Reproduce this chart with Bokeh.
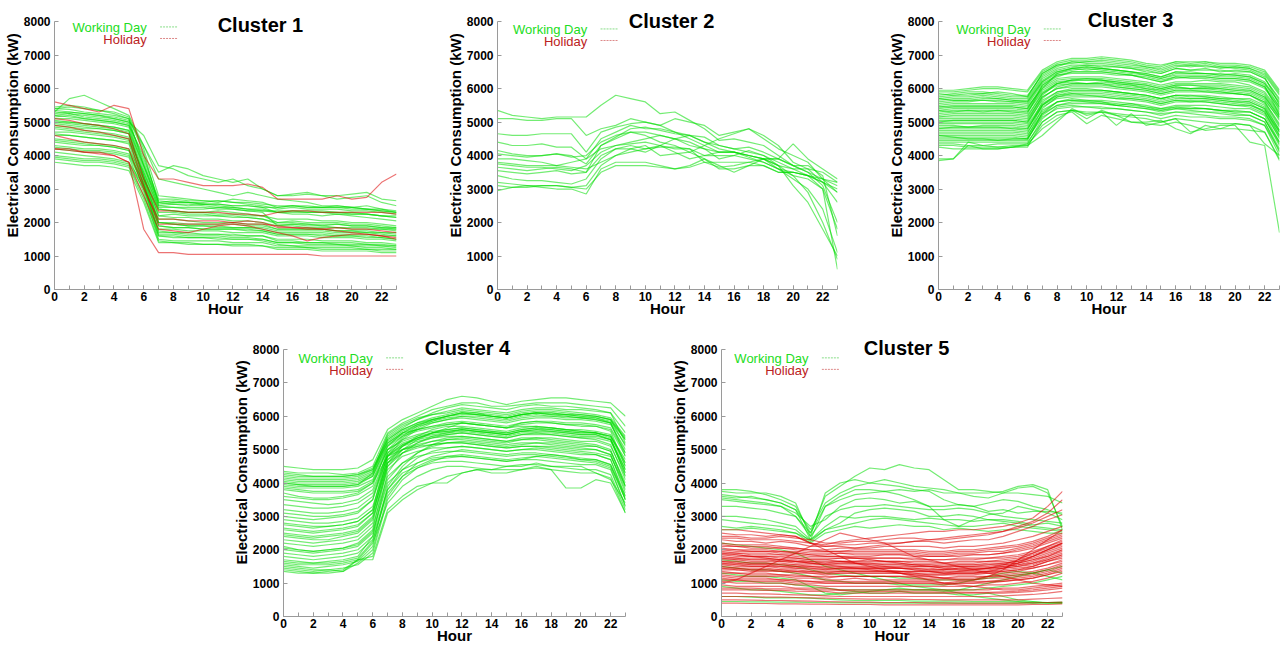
from bokeh.plotting import figure
from bokeh.models import Range1d, FixedTicker, Label, Arrow, ColumnDataSource, Spacer, Title
from bokeh.layouts import row, column
from bokeh.embed import file_html
from bokeh.resources import INLINE

HOURS = list(range(24))
X_TICKS = [0, 2, 4, 6, 8, 10, 12, 14, 16, 18, 20, 22]
Y_TICKS = [0, 1000, 2000, 3000, 4000, 5000, 6000, 7000, 8000]
CLUSTER_NAMES = ["Cluster 1", "Cluster 2", "Cluster 3", "Cluster 4", "Cluster 5"]
LEGEND_LABELS = ["Working Day", "Holiday"]
X_LABEL = "Hour"
Y_LABEL = "Electrical Consumption (kW)"

c1_work = [
 [5450,5500,5450,5350,5250,5100,3700,2500,2550,2500,2550,2500,2450,2400,2350,2300,2250,2250,2200,2250,2200,2150,2100,2050],
 [5300,5700,5800,5600,5400,5200,4300,3500,3700,3600,3400,3300,3200,3300,3000,2800,2850,2900,2800,2700,2750,2800,2600,2500],
 [5200,5250,5150,5100,5050,4950,3900,2700,2700,2650,2650,2600,2700,2650,2600,2450,2500,2450,2450,2500,2450,2400,2350,2300],
 [5100,5100,5050,5000,4950,4850,3600,2400,2350,2300,2300,2350,2300,2250,2200,2000,2000,1950,1950,1950,1900,1900,1850,1800],
 [5000,4950,4900,4850,4800,4700,3400,2200,2150,2150,2100,2100,2050,2050,2000,1900,1900,1850,1850,1850,1800,1800,1800,1750],
 [4900,4850,4800,4800,4750,4650,3300,2000,2000,1950,1950,1950,1950,1900,1900,1800,1800,1800,1800,1750,1750,1750,1700,1700],
 [4800,4750,4700,4650,4600,4500,3200,1900,1850,1850,1800,1800,1800,1800,1750,1650,1650,1650,1600,1600,1600,1550,1550,1500],
 [4600,4600,4550,4500,4450,4350,3100,1700,1700,1650,1650,1650,1600,1600,1600,1450,1450,1400,1400,1400,1400,1350,1350,1300],
 [4400,4350,4300,4300,4250,4150,3000,1600,1550,1550,1550,1500,1500,1500,1450,1350,1300,1300,1300,1300,1300,1250,1250,1200],
 [4200,4150,4100,4100,4050,3950,2900,1500,1450,1450,1450,1450,1400,1400,1400,1300,1300,1250,1250,1250,1250,1200,1200,1200],
 [3900,3850,3800,3800,3750,3650,2700,1450,1400,1400,1350,1350,1350,1350,1300,1250,1250,1250,1200,1200,1200,1200,1150,1150],
 [4000,3950,3900,3900,3850,3750,3000,1800,1800,1750,1750,1750,1700,1700,1700,1600,1600,1600,1550,1550,1550,1500,1500,1450],
 [5350,5300,5250,5200,5150,5050,4300,3300,3200,3100,3000,2900,2800,2900,2800,2700,2650,2600,2500,2500,2450,2500,2400,2300],
 [5150,5200,5100,5050,5000,4900,4000,2600,2650,2600,2600,2650,2600,2550,2500,2400,2450,2400,2400,2400,2350,2350,2300,2250],
 [4700,4700,4650,4600,4550,4450,3500,2300,2300,2250,2250,2200,2200,2150,2100,1950,1950,1950,1900,1950,1900,1900,1850,1850],
 [4500,4450,4400,4350,4300,4200,3300,2100,2100,2050,2000,2000,2000,1950,1950,1800,1800,1800,1800,1750,1750,1700,1700,1650],
 [4300,4250,4200,4200,4150,4050,3200,2000,1950,1900,1900,1850,1850,1850,1800,1700,1700,1700,1700,1650,1650,1650,1600,1600],
 [5250,5300,5250,5200,5100,5000,4600,3700,3600,3400,3300,3200,3300,3100,3000,2800,2800,2850,2800,2800,2850,2900,2700,2650],
 [5050,5000,4950,4900,4850,4750,3500,2450,2450,2400,2400,2450,2400,2350,2300,1900,1950,1900,1900,1850,1850,1850,1800,1800],
 [3800,3750,3700,3700,3650,3550,2600,1400,1400,1350,1350,1350,1300,1300,1300,1200,1200,1200,1150,1150,1150,1150,1100,1100],
 [5400,5380,5300,5250,5200,5100,4100,2550,2600,2600,2550,2550,2500,2500,2450,2450,2500,2500,2450,2450,2450,2400,2400,2350],
 [4100,4050,4000,3950,3900,3800,3100,1650,1650,1600,1600,1600,1550,1550,1500,1400,1400,1350,1350,1350,1300,1300,1300,1250],
 [5300,5250,5200,5150,5100,5000,3800,2600,2550,2550,2500,2450,2450,2400,2400,2300,2350,2350,2350,2300,2300,2250,2200,2150],
 [4950,4900,4850,4800,4750,4650,3400,2000,1950,1900,1900,1900,1850,1850,1850,1750,1750,1750,1750,1700,1700,1700,1650,1600],
 [4650,4600,4550,4500,4450,4400,3300,2400,2350,2300,2300,2250,2250,2200,2200,2100,2100,2100,2050,2050,2000,2000,1950,1900],
 [4450,4400,4350,4300,4250,4150,3150,1750,1700,1700,1650,1650,1650,1600,1600,1500,1500,1500,1450,1450,1450,1400,1400,1350],
 [5400,5450,5400,5350,5300,5150,4200,2800,2750,2700,2650,2650,2600,2600,2550,2500,2500,2450,2450,2450,2400,2400,2350,2300],
 [5200,5150,5100,5050,5000,4900,3700,2500,2450,2450,2450,2400,2400,2350,2350,2350,2350,2300,2300,2300,2250,2250,2200,2150],
 [4850,4800,4750,4700,4650,4550,3400,2200,2250,2200,2200,2200,2150,2150,2100,2000,2050,2000,2000,2000,1950,1950,1900,1850],
 [4250,4200,4150,4150,4100,4000,3100,1900,1850,1850,1800,1800,1800,1750,1750,1650,1650,1650,1650,1600,1600,1600,1550,1500],
 [3950,3900,3850,3850,3800,3700,2800,1600,1600,1550,1550,1550,1500,1500,1500,1400,1400,1400,1400,1350,1350,1350,1300,1300],
 [5000,5000,4950,4900,4850,4750,3700,2650,2600,2600,2550,2550,2500,2500,2450,2300,2300,2300,2300,2250,2250,2250,2200,2200],
]
c1_holiday = [
 [5600,5500,5400,5300,5500,5400,4000,3300,3300,3200,3100,3100,3100,3150,3050,2700,2700,2700,2700,2800,2700,2750,3200,3450],
 [4200,4200,4100,4100,4000,3800,1800,1100,1100,1050,1050,1050,1050,1050,1050,1050,1050,1050,1000,1000,1000,1000,1000,1000],
 [5100,5050,4950,4900,4800,4650,3300,2350,2350,2300,2300,2300,2250,2250,2200,2300,2350,2350,2300,2300,2300,2300,2300,2250],
 [4900,4850,4750,4700,4600,4500,3100,1950,1950,1950,1950,1950,2000,1950,1950,1900,1850,1850,1800,1850,1800,1800,1750,1700],
 [4200,4150,4100,4050,4000,3800,2800,1800,1750,1700,1800,1900,1950,1900,1800,1700,1600,1450,1550,1600,1650,1650,1600,1550],
 [4600,4500,4400,4350,4300,4200,3000,2100,2100,2050,2050,2050,2000,2050,2000,1850,1850,1800,1800,1750,1700,1650,1600,1500],
]

c2_work = [
 [5350,5200,5150,5100,5150,5150,5150,5500,5800,5700,5600,5250,5300,5050,4800,4450,4500,4400,4300,4000,3700,3500,3300,3100],
 [5100,5100,5050,5050,5100,5100,4600,4800,4900,5100,5000,4900,5100,5000,4900,4600,4700,4800,4500,4200,4000,3800,3300,2900],
 [4650,4600,4600,4650,4650,4650,4100,4700,4850,4950,5000,4900,4700,4600,4400,4300,4200,4250,4100,3900,3700,3500,3100,2000],
 [4400,4300,4300,4350,4250,4250,3900,4500,4700,4900,4800,4800,4700,4500,4300,4100,4100,4000,3900,3600,3300,3000,2400,1100],
 [4150,4050,4000,4000,4050,4000,3750,4300,4550,4800,4850,4750,4650,4600,4550,4300,4200,4100,4000,3700,3400,2900,2000,900],
 [4050,4000,3950,4000,4050,3950,4000,4400,4600,4700,4700,4600,4500,4400,4200,4100,4100,4000,3900,3900,4350,3900,3600,3300],
 [3900,3900,3850,3800,3700,3800,3900,4200,4300,4400,4500,4600,4500,4300,4200,3900,4000,4150,4000,3800,3600,3400,3200,2600],
 [3750,3700,3650,3650,3600,3550,3700,4100,4300,4350,4400,4300,4200,4200,4000,4100,4100,3950,3800,3600,3500,3400,3000,600],
 [3550,3500,3450,3500,3550,3450,3500,4000,4200,4300,4200,4250,4250,4200,3800,3650,3700,3800,3900,3700,3600,3600,3200,3000],
 [3400,3300,3250,3250,3200,3150,3300,3900,4200,4200,4100,4300,4100,3900,4000,4000,4000,3900,3800,3600,3400,3300,3000,1800],
 [3200,3150,3100,3100,3100,3050,3100,3700,4000,4200,4300,4000,4050,4100,3900,3600,3600,3700,3700,3500,3500,3400,3300,3200],
 [2950,3050,3100,3050,3000,3000,2850,3600,3800,3800,3800,3700,3600,3700,3900,3700,3500,3700,3900,3700,3100,2600,1800,1000],
 [3100,3050,3050,3100,3100,3050,3000,3500,3700,3700,3700,3650,3600,3650,3800,3800,3800,3800,3700,3500,3500,3400,3200,2900],
 [3650,3600,3550,3600,3650,3600,3500,4300,4500,4700,4600,4400,4300,4100,4300,4500,4650,4800,4600,4300,3800,3600,3500,3200],
 [3800,3750,3700,3700,3700,3650,3600,3800,4000,4100,4200,4300,4500,4600,4400,4200,4100,4000,3900,3900,3700,3700,3400,1600],
]
c2_holiday = []

c3_work = [
 [5900,5900,5950,6000,6000,5950,5900,6500,6750,6850,6850,6900,6850,6800,6700,6650,6800,6750,6800,6700,6700,6650,6500,5900],
 [5800,5850,5900,5900,5850,5800,5800,6400,6650,6800,6800,6800,6750,6700,6650,6550,6700,6650,6700,6600,6650,6600,6400,5800],
 [5700,5750,5750,5800,5750,5700,5700,6350,6600,6700,6700,6650,6650,6600,6500,6450,6600,6550,6550,6550,6500,6500,6300,5700],
 [5600,5650,5650,5650,5650,5600,5600,6250,6500,6600,6550,6600,6550,6500,6400,6300,6450,6450,6450,6400,6400,6350,6150,5600],
 [5500,5550,5550,5550,5550,5550,5500,6150,6400,6450,6450,6450,6400,6400,6300,6200,6300,6350,6350,6300,6300,6250,6050,5450],
 [5400,5450,5450,5450,5450,5450,5400,6050,6300,6350,6350,6350,6300,6250,6200,6100,6200,6200,6250,6200,6200,6100,5900,5300],
 [5300,5350,5350,5350,5350,5350,5300,5950,6200,6250,6250,6250,6200,6150,6100,6000,6100,6100,6100,6100,6050,6000,5800,5200],
 [5200,5250,5250,5250,5250,5250,5200,5850,6100,6150,6150,6150,6100,6050,6000,5900,6000,6000,6000,6000,5950,5900,5700,5050],
 [5150,5150,5150,5150,5150,5150,5100,5750,6000,6050,6050,6050,6000,5950,5900,5800,5900,5900,5900,5850,5850,5800,5600,4900],
 [5050,5050,5050,5050,5050,5050,5000,5650,5900,5950,5950,5950,5900,5850,5800,5700,5800,5800,5800,5750,5700,5700,5500,4750],
 [4950,4950,4950,4950,4950,4950,4900,5550,5800,5850,5850,5850,5800,5750,5700,5600,5700,5700,5700,5650,5600,5600,5400,4600],
 [4850,4850,4850,4850,4850,4850,4800,5450,5700,5750,5750,5750,5700,5650,5600,5500,5600,5600,5600,5550,5500,5500,5300,4500],
 [4750,4750,4750,4750,4750,4750,4700,5350,5600,5650,5650,5650,5600,5550,5500,5400,5500,5500,5500,5450,5400,5400,5200,4400],
 [4650,4650,4650,4650,4650,4650,4600,5250,5500,5550,5550,5550,5500,5450,5400,5300,5400,5400,5400,5350,5300,5300,5100,4300],
 [4500,4500,4500,4500,4500,4500,4500,5150,5400,5450,5450,5450,5400,5350,5300,5200,5300,5300,5300,5250,5200,5200,5000,4200],
 [4400,4400,4400,4400,4400,4400,4400,5000,5300,5350,5300,5300,5250,5200,5200,5100,5200,5150,5150,5100,5100,5050,4900,4000],
 [4300,4300,4250,4250,4250,4300,4300,4900,5200,5300,4950,5200,5100,5000,4950,4900,5000,4900,4750,4800,4800,4750,4700,3850],
 [3900,3900,4300,4200,4200,4250,4300,4600,5000,5400,5200,5300,4900,5250,4900,5000,5100,4700,4800,4900,4900,4400,4300,1700],
 [3850,3900,4400,4300,4250,4250,4350,4800,5100,5350,5100,5350,5200,5000,5000,5050,4800,4650,4900,4800,4950,4900,4350,4000],
 [5650,5700,5700,5750,5700,5650,5650,6300,6550,6650,6700,6700,6650,6600,6550,6450,6600,6550,6600,6500,6550,6500,6300,5650],
 [5250,5300,5300,5300,5300,5300,5250,6100,6350,6500,6500,6500,6450,6400,6300,6200,6350,6300,6300,6250,6250,6200,6000,5400],
 [5100,5100,5100,5100,5100,5100,5050,5800,6150,6250,6250,6250,6150,6100,6050,5950,6050,6000,6000,5950,5900,5850,5650,5100],
 [4800,4800,4800,4800,4800,4800,4750,5600,5900,6000,6000,5950,5900,5850,5800,5700,5800,5800,5750,5700,5650,5600,5400,4700],
 [4600,4600,4600,4600,4600,4600,4550,5400,5750,5850,5800,5800,5750,5700,5650,5550,5650,5650,5600,5550,5500,5450,5250,4550],
 [5850,5800,5800,5850,5900,5850,5750,6450,6700,6800,6750,6750,6700,6650,6600,6500,6650,6700,6650,6650,6600,6550,6350,5500],
 [5450,5500,5500,5500,5500,5500,5450,6000,6450,6550,6600,6550,6500,6450,6400,6300,6400,6400,6400,6350,6350,6300,6100,5200],
 [4450,4450,4450,4450,4450,4450,4450,5300,5600,5650,5600,5550,5500,5450,5400,5350,5400,5350,5300,5300,5250,5200,5000,4100],
 [5000,5000,5000,5000,5000,5000,4950,5700,6050,6150,6150,6150,6050,6000,5950,5850,5950,5950,5950,5900,5850,5800,5550,4850],
 [5750,5800,5850,5850,5800,5750,5750,6450,6700,6750,6800,6850,6800,6750,6650,6600,6750,6700,6750,6650,6650,6600,6450,5850],
 [5350,5400,5400,5400,5400,5400,5350,6000,6250,6300,6300,6300,6250,6200,6150,6050,6150,6150,6150,6150,6100,6050,5850,5250],
 [4700,4700,4700,4700,4700,4700,4650,5500,5800,5900,5900,5900,5850,5800,5750,5650,5750,5700,5700,5650,5600,5550,5300,4600],
 [4550,4550,4550,4550,4550,4550,4500,5200,5500,5600,5600,5600,5550,5500,5450,5350,5450,5400,5400,5350,5300,5300,5100,4350],
 [5550,5600,5600,5650,5600,5600,5550,6200,6450,6600,6650,6600,6550,6500,6450,6350,6500,6450,6450,6400,6450,6400,6200,5550],
 [5350,5300,5350,5300,5350,5300,5300,5900,6150,6200,6150,6200,6150,6100,6000,5950,6050,6000,6050,6000,5950,5950,5750,5150],
 [4900,4900,4850,4900,4900,4900,4850,5500,5750,5800,5800,5750,5700,5700,5650,5550,5650,5600,5650,5600,5550,5500,5350,4700],
 [4350,4350,4300,4300,4350,4350,4350,5100,5450,5500,5450,5400,5400,5350,5300,5250,5300,5250,5200,5150,5150,5100,4900,4150],
 [4600,4550,4500,4500,4450,4500,4500,5250,5600,5700,5650,5600,5500,5550,5450,5400,5450,5450,5400,5350,5350,5300,5100,4400],
 [5700,5650,5650,5700,5700,5650,5600,6200,6500,6600,6650,6600,6550,6500,6450,6350,6500,6500,6450,6450,6400,6350,6150,5450],
 [5150,5200,5200,5200,5200,5200,5150,5850,6150,6250,6300,6250,6200,6150,6100,6000,6100,6100,6050,6050,6000,5950,5750,5150],
 [4800,4850,4850,4850,4850,4800,4800,5500,5850,5950,5950,5950,5900,5850,5800,5700,5800,5750,5750,5700,5700,5650,5450,4750],
 [5450,5450,5450,5450,5450,5450,5400,6100,6400,6500,6500,6500,6450,6400,6350,6250,6350,6350,6350,6300,6300,6250,6050,5350],
 [4250,4200,4200,4200,4200,4250,4250,5000,5300,5350,5250,5300,5200,5150,5100,5000,5100,5050,5000,4950,4950,4900,4700,3900],
 [5950,5950,6000,6050,6050,6000,5950,6550,6800,6900,6900,6950,6900,6850,6750,6700,6800,6800,6800,6750,6750,6700,6550,5950],
 [5000,5050,5050,5050,5050,5050,5000,5750,6000,6100,6100,6100,6050,6000,5950,5850,5950,5950,5900,5900,5850,5800,5600,4950],
]
c3_holiday = []

c4_work = [
 [4500,4450,4400,4400,4400,4450,4700,5600,5900,6100,6300,6500,6600,6550,6450,6350,6450,6500,6550,6550,6500,6450,6400,6000],
 [4350,4300,4300,4300,4250,4300,4500,5500,5800,6000,6200,6300,6400,6400,6300,6300,6350,6400,6400,6400,6350,6300,6250,5700],
 [4200,4150,4150,4150,4150,4200,4400,5400,5700,5900,6050,6150,6250,6200,6150,6100,6200,6250,6250,6200,6200,6150,6100,5500],
 [4100,4050,4050,4050,4050,4100,4300,5300,5600,5800,5900,6000,6100,6050,6000,5950,6050,6100,6100,6050,6050,6000,5900,5300],
 [4000,3950,3950,3950,3950,4000,4200,5200,5500,5700,5800,5900,5950,5900,5850,5800,5900,5950,5950,5900,5900,5850,5750,5000],
 [3900,3850,3850,3850,3850,3900,4100,5100,5400,5550,5650,5750,5800,5750,5700,5650,5750,5800,5800,5750,5750,5700,5600,4800],
 [3800,3750,3700,3700,3700,3750,4000,5000,5300,5450,5550,5600,5650,5600,5550,5500,5600,5650,5650,5600,5600,5550,5450,4600],
 [3500,3450,3400,3350,3400,3500,3800,4900,5200,5350,5450,5500,5550,5500,5450,5400,5500,5500,5500,5450,5400,5400,5300,4400],
 [3200,3150,3100,3100,3150,3250,3600,4800,5100,5250,5350,5400,5400,5350,5300,5250,5350,5350,5350,5300,5250,5250,5100,4200],
 [2900,2850,2800,2800,2850,2950,3300,4700,5000,5150,5250,5300,5300,5250,5200,5150,5200,5200,5200,5150,5100,5100,4950,4000],
 [2600,2550,2500,2550,2600,2700,3100,4600,4900,5050,5150,5200,5200,5150,5100,5050,5100,5100,5100,5050,5000,5000,4850,3800],
 [2400,2350,2300,2300,2400,2500,2900,4400,4800,4950,5050,5050,5100,5050,5000,4950,5000,5000,4950,4900,4850,4850,4700,3600],
 [2200,2150,2100,2150,2200,2300,2700,4200,4600,4800,4900,4950,4950,4900,4850,4800,4850,4850,4800,4750,4700,4700,4550,3500],
 [2000,1950,1900,1950,2000,2100,2500,4000,4400,4600,4750,4800,4800,4750,4700,4650,4700,4700,4650,4600,4550,4550,4400,3300],
 [1800,1750,1700,1750,1800,1900,2300,3700,4200,4450,4600,4650,4650,4600,4550,4500,4550,4550,4500,4450,4400,4400,4250,3200],
 [1600,1550,1550,1550,1600,1700,2200,3400,3900,4200,4400,4500,4500,4450,4400,4400,4400,4450,4400,4350,4300,4300,4150,3100],
 [1400,1350,1300,1350,1400,1700,1800,3200,3600,3900,4000,4200,4300,4400,4300,4300,4400,4500,4400,3850,3850,4100,4000,3100],
 [1500,1450,1400,1400,1350,1700,1700,3100,3500,3800,4000,4000,4300,4400,4400,4500,4500,4600,4500,4500,4500,4300,4100,3400],
 [2100,2000,1950,2000,2050,2200,2600,4500,5000,5300,5500,5650,5800,5750,5700,5650,5800,5850,5800,5750,5700,5700,5550,4500],
 [2500,2450,2400,2450,2500,2600,3000,4800,5300,5600,5800,5900,6000,6000,5950,5900,6000,6050,6000,6000,5950,5900,5800,4900],
 [1700,1650,1600,1650,1700,1800,2400,4300,4900,5200,5400,5500,5600,5550,5500,5450,5550,5600,5550,5500,5450,5450,5300,4300],
 [3000,2950,2900,2950,3000,3100,3500,5000,5400,5700,5900,6000,6100,6100,6000,5950,6050,6100,6100,6050,6000,6000,5900,5100],
 [4300,4250,4200,4200,4200,4250,4400,5200,5500,5600,5700,5750,5800,5750,5700,5650,5700,5700,5650,5600,5550,5500,5400,4700],
 [3700,3600,3550,3550,3600,3700,4000,4800,5000,5100,5150,5200,5200,5150,5100,5050,5100,5100,5050,5000,4950,4900,4800,3900],
 [1900,1850,1800,1850,1900,2000,2400,3800,4300,4500,4700,4750,4800,4750,4700,4650,4700,4800,4850,4800,4700,4650,4500,3500],
 [4000,3950,3900,3900,3900,3950,4300,5350,5650,5900,6100,6250,6350,6300,6250,6200,6300,6350,6300,6300,6250,6200,6100,5200],
 [2750,2700,2650,2700,2750,2850,3200,4900,5350,5650,5850,6000,6050,6050,6000,5950,6050,6100,6050,6050,6000,5950,5850,5300],
 [1550,1500,1450,1500,1550,1650,2100,3900,4500,4900,5150,5300,5350,5300,5250,5200,5300,5300,5250,5200,5150,5100,4950,3900],
 [4150,4100,4100,4100,4100,4150,4350,5450,5750,5950,6050,6100,6200,6150,6100,6050,6150,6200,6200,6150,6100,6050,5950,5400],
 [3950,3900,3900,3900,3900,3950,4200,5150,5450,5600,5700,5800,5850,5800,5750,5700,5800,5850,5850,5800,5800,5750,5650,4900],
 [2300,2250,2200,2250,2300,2400,2800,4600,5100,5400,5600,5700,5700,5650,5600,5550,5650,5700,5650,5600,5550,5500,5400,4600],
 [1350,1300,1300,1300,1350,1600,2000,3600,4200,4600,4800,4900,5000,4950,4900,4850,4900,4900,4850,4800,4750,4700,4550,3600],
 [4250,4200,4200,4200,4200,4250,4450,5300,5600,5800,5950,6050,6150,6100,6050,6000,6100,6150,6150,6100,6050,6000,5900,5350],
 [4050,4000,4000,4000,4000,4050,4250,5250,5550,5750,5850,5950,6000,5950,5900,5850,5950,6000,6000,5950,5950,5900,5800,5150],
 [3850,3800,3750,3750,3750,3800,4050,5000,5250,5400,5500,5550,5600,5550,5500,5450,5550,5600,5600,5550,5500,5500,5400,4500],
 [3350,3300,3250,3250,3300,3400,3700,4850,5150,5300,5400,5450,5500,5450,5400,5350,5450,5450,5450,5400,5350,5350,5250,4300],
 [3100,3050,3000,3000,3050,3150,3500,4800,5150,5350,5500,5550,5600,5550,5500,5450,5550,5550,5550,5500,5450,5450,5300,4400],
 [2800,2750,2700,2700,2750,2850,3200,4700,5100,5350,5500,5600,5650,5600,5550,5500,5600,5650,5600,5550,5500,5500,5350,4200],
 [2450,2400,2350,2400,2450,2550,2950,4500,4900,5100,5250,5350,5400,5350,5300,5250,5300,5350,5300,5250,5200,5150,5000,3900],
 [2050,2000,1950,2000,2050,2150,2550,4100,4600,4900,5100,5200,5250,5200,5150,5100,5150,5200,5150,5100,5050,5000,4850,3700],
 [1650,1600,1600,1600,1650,1750,2250,3800,4400,4750,4950,5050,5100,5050,5000,4950,5000,5050,5000,4950,4900,4850,4700,3500],
 [1450,1400,1350,1400,1450,1550,1900,3500,4100,4450,4650,4800,4850,4800,4750,4700,4750,4800,4750,4700,4650,4600,4450,3300],
 [3600,3550,3500,3500,3550,3650,3900,5100,5500,5750,5900,6000,6100,6050,6000,5950,6050,6100,6050,6000,5950,5950,5800,4800],
 [2650,2600,2550,2600,2650,2750,3100,4600,5000,5200,5350,5450,5500,5450,5400,5350,5450,5500,5450,5400,5350,5300,5150,4100],
]
c4_holiday = []

c5_work = [
 [3800,3800,3750,3650,3500,3300,2500,3600,3900,4200,4450,4400,4550,4450,4400,4100,3800,3800,3750,3700,3700,3650,3600,3400],
 [3750,3700,3700,3700,3600,3400,2400,3700,4000,4100,4000,4100,4000,3900,3850,3800,3700,3700,3700,3750,3900,3950,3800,2600],
 [3600,3550,3600,3500,3400,3200,2300,3300,3600,3800,3800,3750,3800,3750,3800,3700,3700,3600,3550,3700,3850,3900,3700,2700],
 [3500,3450,3400,3350,3300,3100,2700,2900,3300,3500,3550,3500,3400,3450,3300,3300,3350,3300,3150,3200,3100,3150,3150,3100],
 [3300,3300,3250,3200,3100,3000,2400,3000,3200,3300,3300,3350,3300,3250,3200,3200,3250,3200,3100,3000,2950,2900,2850,2800],
 [3000,3000,2950,2900,2800,2700,2300,2700,3000,2950,3000,3000,2950,2900,2950,2900,2900,2850,2900,2900,2850,2750,2800,2700],
 [2900,2850,2800,2750,2700,2600,2250,2600,2700,2800,2900,2950,2900,2850,2800,2750,2700,2700,2750,2800,2700,2650,2600,2550],
 [2600,2600,2650,2600,2550,2500,2200,2500,2600,2700,2650,2700,2750,2700,2700,2600,2650,2600,2550,2600,2600,2550,2500,2500],
 [3550,3500,3450,3400,3300,3000,2500,3300,3500,3650,3700,3750,3650,3500,3300,2900,2700,2900,3050,3100,3300,3200,3100,2900],
 [2700,2650,2700,2650,2600,2500,2300,2600,2800,3100,3200,3250,3200,3150,3000,3000,3050,3000,2900,2850,2800,2700,2650,2600],
 [900,850,800,800,750,700,650,650,700,750,700,700,750,700,700,700,650,650,700,600,500,450,400,400],
 [600,600,580,560,560,560,550,520,500,480,480,480,480,460,460,460,460,450,450,450,440,440,420,420],
 [1300,1250,1200,1200,1150,1100,900,700,650,700,750,800,850,800,800,750,800,900,1000,1100,1200,1300,1400,1300],
 [1500,1450,1400,1400,1350,1300,1200,1100,1050,1000,1000,1000,950,950,950,950,1000,1100,1200,1300,1350,1300,1200,1100],
 [3650,3600,3550,3500,3400,3200,2600,3400,3700,3900,4000,3950,3900,3800,3750,3500,3350,3300,3400,3500,3450,3300,3200,3050],
 [450,450,440,440,430,430,420,420,410,410,410,400,400,400,400,400,400,400,400,400,400,410,420,430],
 [1100,1050,1050,1000,1000,950,900,850,800,800,800,800,800,800,800,800,800,800,850,900,950,1000,1100,1200],
 [1700,1650,1600,1600,1550,1500,1400,1300,1250,1200,1200,1200,1150,1150,1100,1100,1100,1100,1150,1200,1250,1300,1400,1500],
 [2200,2150,2100,2050,2000,1900,1700,1500,1400,1300,1200,1100,1000,900,850,800,700,600,550,500,450,400,400,400],
]
c5_holiday = [
 [2500,2450,2450,2400,2450,2400,2200,2150,2250,2300,2350,2400,2450,2500,2550,2550,2600,2600,2650,2700,2800,2950,3300,3750],
 [2400,2400,2350,2350,2400,2350,2300,2200,2200,2250,2250,2300,2350,2350,2300,2300,2350,2400,2450,2550,2700,2850,3100,3500],
 [2300,2250,2250,2200,2250,2200,2100,2100,2150,2150,2200,2200,2200,2250,2250,2200,2250,2300,2300,2400,2550,2700,2900,3050],
 [2200,2150,2150,2150,2100,2050,2000,2000,2050,2050,2050,2100,2100,2100,2100,2050,2100,2100,2150,2200,2300,2400,2550,2700],
 [2100,2100,2050,2050,2050,2000,1950,1950,1950,2000,2000,2000,2000,2000,1950,1950,2000,2000,2050,2100,2150,2250,2400,2600],
 [2000,2000,1950,1950,1950,1900,1850,1850,1900,1900,1900,1900,1900,1900,1850,1850,1900,1900,1950,1950,2050,2150,2300,2450],
 [1950,1900,1900,1900,1850,1850,1800,1800,1800,1800,1800,1850,1850,1800,1800,1800,1800,1850,1850,1900,1950,2050,2200,2350],
 [1850,1850,1800,1800,1800,1750,1700,1700,1750,1750,1750,1750,1750,1750,1700,1700,1750,1750,1750,1800,1850,1950,2100,2250],
 [1800,1750,1750,1750,1700,1700,1650,1650,1650,1650,1700,1650,1650,1650,1650,1600,1650,1650,1650,1700,1750,1850,2000,2150],
 [1700,1700,1650,1650,1650,1600,1600,1550,1600,1600,1600,1600,1600,1550,1550,1550,1550,1550,1600,1600,1650,1750,1900,2050],
 [1650,1600,1600,1600,1550,1550,1500,1500,1500,1500,1500,1500,1500,1500,1500,1450,1500,1500,1500,1550,1600,1700,1800,1950],
 [1550,1550,1500,1500,1500,1450,1450,1400,1450,1450,1450,1450,1450,1400,1400,1400,1400,1400,1450,1450,1500,1600,1700,1850],
 [1500,1450,1450,1450,1400,1400,1350,1350,1350,1350,1350,1350,1350,1350,1350,1300,1350,1350,1350,1400,1450,1500,1650,1750],
 [1400,1400,1350,1350,1350,1300,1300,1250,1300,1300,1300,1300,1300,1250,1250,1250,1250,1250,1300,1300,1350,1450,1550,1650],
 [1350,1300,1300,1300,1250,1250,1200,1200,1200,1200,1200,1200,1200,1200,1200,1150,1200,1200,1200,1250,1300,1350,1450,1600],
 [1250,1200,1200,1200,1200,1150,1150,1100,1100,1150,1100,1100,1100,1100,1100,1100,1100,1100,1150,1150,1200,1250,1350,1500],
 [1150,1100,1100,1100,1100,1050,1050,1000,1000,1000,1000,1000,1000,1000,1000,1000,1000,1000,1050,1050,1100,1150,1250,1400],
 [1050,1000,1000,1000,1000,950,950,900,900,900,900,900,900,900,900,900,900,900,950,950,1000,1050,1150,1300],
 [2600,2600,2550,2500,2450,2400,2200,2000,1800,1600,1500,1400,1300,1200,1100,1000,950,900,850,800,800,850,900,950],
 [950,900,900,900,900,850,850,850,800,800,800,800,800,800,800,800,800,800,800,850,850,900,950,1000],
 [800,800,800,780,780,760,750,750,700,700,700,700,700,700,700,700,700,700,700,700,720,750,800,850],
 [600,600,600,580,580,570,560,550,540,530,520,520,520,510,510,500,500,500,500,500,500,520,540,560],
 [500,500,490,480,480,470,460,450,440,430,430,420,420,420,410,410,400,400,400,400,400,410,420,430],
 [400,400,390,390,380,380,370,370,360,360,360,350,350,350,350,350,350,350,350,350,350,360,360,380],
 [1000,1100,1300,1500,1700,1900,2100,2300,2500,2400,2300,2200,2000,1800,1700,1600,1500,1400,1300,1200,1100,1000,950,900],
 [1900,1850,1800,1750,1700,1650,1600,1550,1500,1450,1400,1350,1300,1250,1200,1150,1100,1100,1200,1400,1700,2000,2300,2600],
 [2350,2350,2300,2300,2300,2250,2200,2100,2100,2050,2100,2150,2200,2250,2300,2350,2400,2450,2500,2550,2650,2800,3000,3200],
 [1750,1700,1700,1700,1650,1650,1600,1600,1600,1600,1600,1550,1550,1550,1550,1500,1550,1550,1550,1600,1650,1800,2000,2200],
 [1450,1400,1400,1400,1350,1350,1300,1300,1300,1300,1300,1300,1300,1300,1250,1250,1300,1300,1300,1350,1400,1500,1650,1800],
 [2050,2000,2000,2000,1950,1950,1900,1900,1900,1850,1850,1850,1850,1850,1800,1800,1850,1850,1850,1900,2000,2100,2250,2400],
 [1600,1600,1550,1550,1550,1500,1500,1450,1450,1450,1450,1450,1450,1450,1400,1400,1450,1450,1450,1500,1550,1650,1800,2000],
 [1200,1150,1150,1150,1100,1100,1050,1050,1050,1050,1050,1050,1050,1050,1050,1000,1050,1050,1050,1100,1150,1200,1300,1450],
 [700,700,680,680,660,650,640,620,600,600,600,600,600,600,600,600,600,600,600,620,640,660,700,750],
 [2150,2100,2100,2100,2050,2050,2000,1950,1950,1950,1950,1950,1950,1950,1900,1900,1950,1950,2000,2050,2100,2200,2350,2500],
 [1900,1900,1850,1850,1850,1800,1750,1750,1750,1750,1750,1750,1750,1700,1700,1700,1700,1700,1750,1750,1800,1900,2050,2200],
 [1750,1750,1700,1700,1700,1650,1650,1600,1650,1650,1650,1650,1650,1600,1600,1600,1600,1600,1650,1650,1700,1800,1950,2100],
 [1600,1550,1550,1550,1500,1500,1450,1450,1450,1450,1450,1450,1450,1450,1450,1400,1450,1450,1450,1500,1550,1600,1750,1900],
 [1450,1450,1400,1400,1400,1350,1350,1300,1350,1350,1350,1350,1350,1300,1300,1300,1300,1300,1350,1350,1400,1450,1550,1700],
 [1300,1300,1250,1250,1250,1200,1200,1150,1200,1200,1200,1200,1200,1150,1150,1150,1150,1150,1200,1200,1250,1300,1400,1550],
 [1100,1100,1050,1050,1050,1000,1000,1000,1000,1000,1000,1000,1000,1000,1000,950,1000,1000,1000,1050,1100,1150,1250,1350],
 [2000,1950,1950,1950,1900,1900,1850,1800,1800,1750,1700,1650,1600,1550,1500,1450,1400,1400,1450,1550,1700,1900,2100,2300],
 [1850,1800,1800,1800,1750,1750,1700,1700,1650,1600,1550,1500,1450,1400,1350,1300,1300,1300,1350,1450,1600,1800,2000,2200],
 [850,850,850,830,830,820,800,800,780,760,750,750,750,740,740,730,730,720,720,740,760,800,850,900],
 [1550,1500,1500,1500,1450,1450,1400,1400,1400,1400,1400,1400,1350,1350,1350,1350,1350,1400,1400,1450,1500,1550,1700,1850],
 [1650,1650,1600,1600,1600,1550,1550,1550,1550,1550,1550,1550,1550,1500,1500,1500,1500,1500,1550,1550,1600,1700,1850,2000],
]

FONT = "Liberation Sans"
GREEN = "#00dd00"
RED = "#dd0000"
AXIS_GRAY = "#9a9a9a"
Y_TOP = 8450  # frame headroom above the 8000 axis end, for titles/legend


def make_panel(name, work, holiday, width, height, bl, br, bt, bb,
               title_pos, legend_pos):
    p = figure(width=width, height=height, title=None,
               x_range=Range1d(0, 23), y_range=Range1d(0, Y_TOP),
               output_backend="svg", toolbar_location=None,
               min_border_left=bl, min_border_right=br,
               min_border_top=bt, min_border_bottom=bb)
    p.outline_line_color = None
    p.background_fill_color = "white"
    p.border_fill_color = "white"
    p.xgrid.visible = False
    p.ygrid.visible = False

    p.xaxis.ticker = FixedTicker(ticks=X_TICKS, minor_ticks=HOURS)
    p.yaxis.ticker = FixedTicker(ticks=Y_TICKS, minor_ticks=[])
    p.yaxis.bounds = (0, 8000)
    for ax in (p.xaxis[0], p.yaxis[0]):
        ax.axis_line_color = AXIS_GRAY
        ax.major_tick_line_color = AXIS_GRAY
        ax.minor_tick_line_color = AXIS_GRAY
        ax.major_tick_in = 4
        ax.major_tick_out = 0
        ax.minor_tick_in = 4
        ax.minor_tick_out = 0
        ax.major_label_text_font = FONT
        ax.major_label_text_font_style = "bold"
        ax.major_label_text_font_size = "12px"
        ax.major_label_text_color = "black"
    p.xaxis.major_label_standoff = 2
    p.yaxis.major_label_standoff = 4
    p.xaxis.axis_label = X_LABEL
    p.xaxis.axis_label_text_font = FONT
    p.xaxis.axis_label_text_font_style = "bold"
    p.xaxis.axis_label_text_font_size = "15px"
    p.xaxis.axis_label_text_color = "black"
    p.xaxis.axis_label_standoff = -4

    p.add_layout(Title(text=Y_LABEL, align="left", offset=52, standoff=0,
                       text_font=FONT, text_font_style="bold",
                       text_font_size="15px", text_color="black"), "left")

    if work:
        src = ColumnDataSource(dict(xs=[HOURS] * len(work), ys=work))
        p.multi_line("xs", "ys", source=src, line_color=GREEN,
                     line_alpha=0.55, line_width=1.2)
    if holiday:
        src = ColumnDataSource(dict(xs=[HOURS] * len(holiday), ys=holiday))
        p.multi_line("xs", "ys", source=src, line_color=RED,
                     line_alpha=0.55, line_width=1.2)

    p.add_layout(Label(x=title_pos[0], y=title_pos[1], text=name,
                       text_font=FONT, text_font_style="bold",
                       text_font_size="20px", text_align="center",
                       text_baseline="middle", text_color="black"))
    lx, ly = legend_pos
    for i, (lab, tcol, dcol) in enumerate(zip(LEGEND_LABELS,
                                              ["#22dd22", "#bb2222"],
                                              ["#88dd88", "#dd8888"])):
        yy = ly - i * 345
        p.add_layout(Label(x=lx, y=yy, text=lab, text_font=FONT,
                           text_font_size="13px", text_align="right",
                           text_baseline="middle", text_color=tcol))
        p.add_layout(Arrow(end=None, x_start=lx + 0.9, y_start=yy + 20,
                           x_end=lx + 2.1, y_end=yy + 20,
                           line_color=dcol, line_width=1, line_dash="2 1"))
    return p


f1 = make_panel(CLUSTER_NAMES[0], c1_work, c1_holiday, 443, 328, 54, 47, 6, 39,
                (13.85, 7900), (6.2, 7820))
f2 = make_panel(CLUSTER_NAMES[1], c2_work, c2_holiday, 441, 328, 54, 47, 6, 39,
                (11.77, 8030), (6.07, 7760))
f3 = make_panel(CLUSTER_NAMES[2], c3_work, c3_holiday, 398, 328, 54, 3, 6, 39,
                (12.95, 8060), (6.2, 7760))
f4 = make_panel(CLUSTER_NAMES[3], c4_work, c4_holiday, 438, 318, 54, 42, 6, 29,
                (12.37, 8045), (6.0, 7730))
f5 = make_panel(CLUSTER_NAMES[4], c5_work, c5_holiday, 405, 318, 54, 10, 6, 29,
                (12.48, 8045), (5.87, 7730))

layout = column(row(f1, f2, f3), row(Spacer(width=229, height=318), f4, f5))

open("out.html", "w").write(file_html(layout, INLINE))
